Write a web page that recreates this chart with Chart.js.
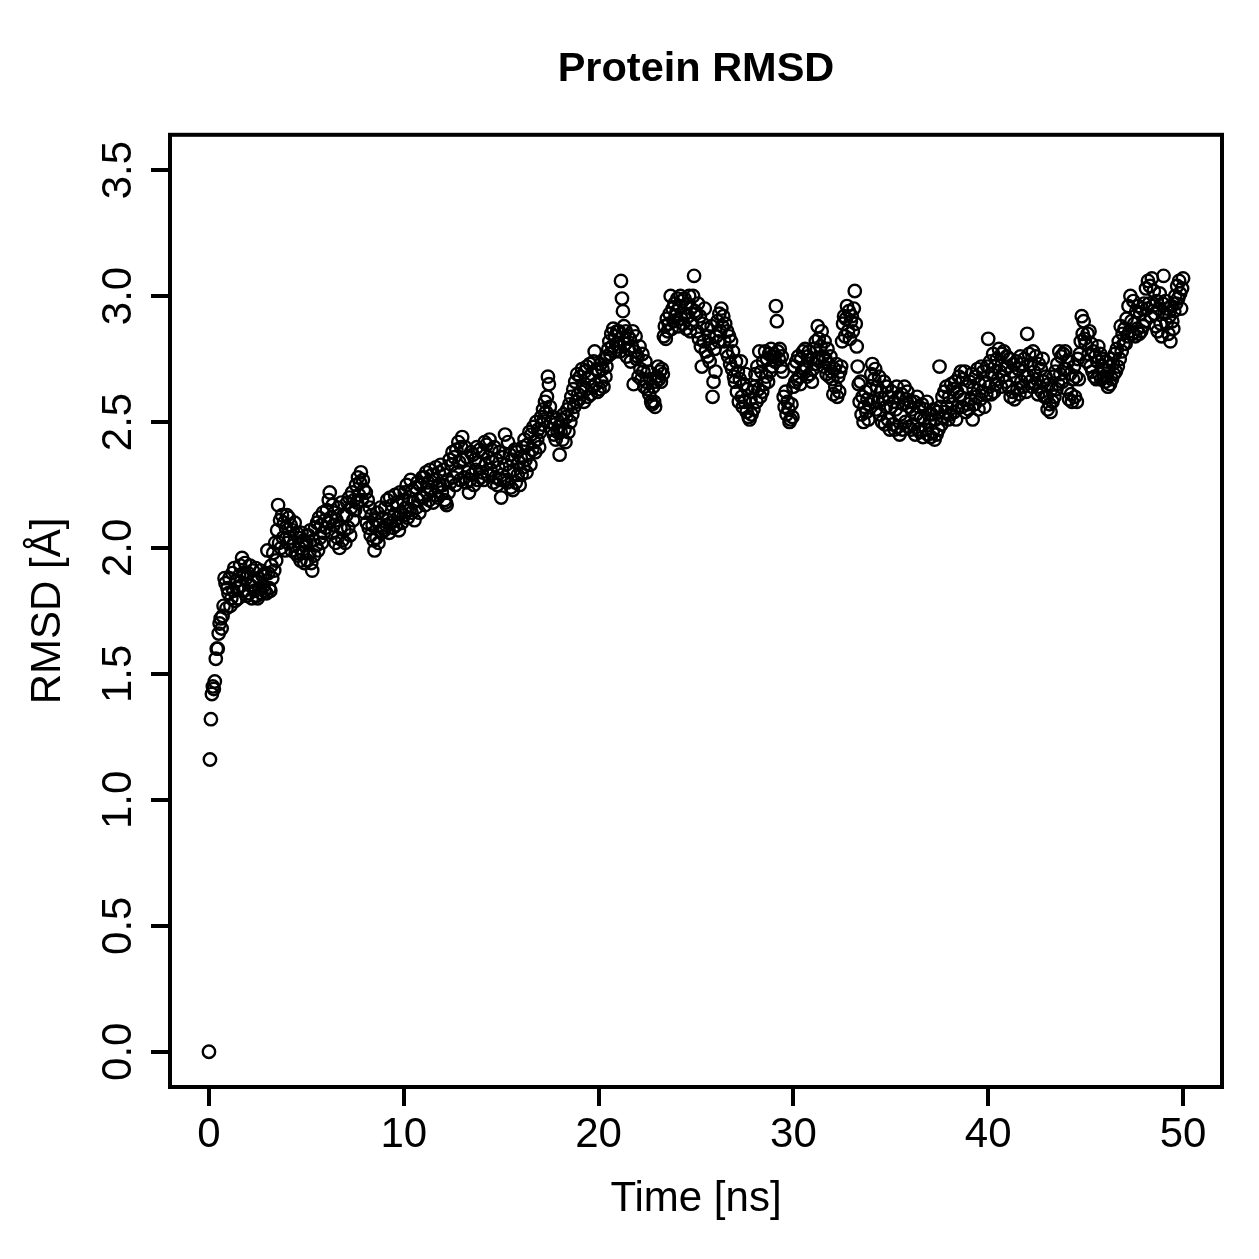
<!DOCTYPE html>
<html>
<head>
<meta charset="utf-8">
<title>Protein RMSD</title>
<script src="https://cdn.jsdelivr.net/npm/chart.js@4.4.1/dist/chart.umd.min.js"></script>
<style>
  html, body { margin: 0; padding: 0; background: #fff; }
  #wrap { width: 1259px; height: 1259px; }
</style>
</head>
<body>
<div id="wrap"><canvas id="rmsdChart" width="1259" height="1259"></canvas></div>
<script>
// frames were saved every 0.05 ns
const frameStep = 0.05;

// RMSD [Å] per frame, one row per ns
const rmsd = [
  0.00,1.16,1.32,1.42,1.45,1.44,1.47,1.56,1.60,1.60,1.66,1.70,1.72,1.68,1.73,1.77,1.88,1.86,1.76,1.84,
  1.82,1.88,1.77,1.80,1.90,1.83,1.92,1.79,1.87,1.84,1.80,1.89,1.93,1.85,1.96,1.90,1.83,1.94,1.88,1.81,
  1.90,1.82,1.93,1.85,1.80,1.91,1.87,1.83,1.92,1.81,1.80,1.88,1.84,1.91,1.82,1.89,1.85,1.83,1.90,1.82,
  1.99,1.90,1.84,1.83,1.93,1.88,1.98,1.91,2.02,1.95,2.07,2.17,2.02,2.11,2.00,2.13,2.04,2.10,1.99,2.08,
  2.13,2.02,2.12,2.04,2.09,1.99,2.07,2.01,2.10,1.98,2.06,1.97,2.04,2.00,1.95,2.06,1.98,2.03,1.94,2.01,
  2.02,1.95,2.05,1.98,2.07,1.94,1.91,2.03,1.97,2.08,2.01,2.10,1.99,2.12,2.04,2.09,2.02,2.14,2.06,2.11,
  2.08,2.15,2.10,2.19,2.22,2.12,2.06,2.17,2.09,2.14,2.02,2.11,2.04,2.16,2.00,2.08,2.18,2.03,2.13,2.07,
  2.02,2.13,2.18,2.08,2.20,2.05,2.16,2.22,2.11,2.19,2.15,2.25,2.18,2.28,2.21,2.26,2.30,2.19,2.27,2.23,
  2.14,2.22,2.10,2.19,2.08,2.16,2.05,2.13,2.09,2.03,1.99,2.11,2.04,2.14,2.02,2.09,2.16,2.06,2.12,2.08,
  2.07,2.16,2.09,2.19,2.11,2.06,2.20,2.10,2.17,2.08,2.13,2.21,2.09,2.18,2.12,2.07,2.22,2.14,2.10,2.19,
  2.13,2.22,2.16,2.25,2.12,2.20,2.15,2.27,2.14,2.23,2.18,2.11,2.24,2.16,2.26,2.19,2.14,2.25,2.20,2.28,
  2.20,2.28,2.17,2.30,2.22,2.26,2.19,2.31,2.23,2.29,2.18,2.27,2.21,2.32,2.24,2.20,2.30,2.25,2.33,2.22,
  2.25,2.31,2.19,2.18,2.17,2.27,2.22,2.35,2.26,2.33,2.38,2.28,2.36,2.25,2.39,2.30,2.42,2.34,2.27,2.40,
  2.44,2.35,2.28,2.40,2.26,2.36,2.30,2.22,2.27,2.38,2.29,2.37,2.25,2.35,2.31,2.40,2.27,2.34,2.39,2.28,
  2.30,2.38,2.27,2.42,2.33,2.41,2.29,2.36,2.43,2.31,2.39,2.34,2.26,2.40,2.28,2.35,2.25,2.32,2.38,2.27,
  2.20,2.29,2.36,2.27,2.45,2.33,2.26,2.42,2.30,2.37,2.24,2.35,2.23,2.31,2.39,2.26,2.38,2.29,2.34,2.25,
  2.36,2.29,2.40,2.32,2.43,2.35,2.30,2.41,2.37,2.46,2.33,2.45,2.39,2.48,2.42,2.38,2.50,2.43,2.47,2.40,
  2.46,2.52,2.49,2.55,2.51,2.58,2.54,2.60,2.68,2.65,2.56,2.50,2.47,2.52,2.45,2.49,2.43,2.51,2.46,2.48,
  2.37,2.46,2.51,2.43,2.53,2.47,2.42,2.52,2.55,2.46,2.57,2.50,2.60,2.53,2.63,2.56,2.66,2.58,2.69,2.61,
  2.59,2.68,2.62,2.71,2.64,2.58,2.70,2.63,2.72,2.60,2.67,2.73,2.61,2.69,2.64,2.74,2.78,2.65,2.71,2.62,
  2.70,2.63,2.73,2.66,2.71,2.64,2.75,2.68,2.72,2.76,2.79,2.82,2.77,2.85,2.80,2.87,2.78,2.84,2.81,2.86,
  2.80,2.86,2.78,3.06,2.99,2.94,2.88,2.81,2.86,2.76,2.84,2.79,2.83,2.74,2.80,2.86,2.65,2.78,2.84,2.75,
  2.76,2.68,2.80,2.71,2.67,2.77,2.70,2.64,2.74,2.66,2.63,2.70,2.61,2.67,2.58,2.57,2.64,2.58,2.56,2.66,
  2.68,2.72,2.67,2.70,2.66,2.71,2.69,2.84,2.88,2.83,2.91,2.86,2.89,2.93,3.00,2.87,2.95,2.90,2.97,2.92,
  2.94,2.99,2.88,2.96,3.00,2.91,2.98,2.89,2.99,2.93,2.87,2.97,2.92,3.00,2.86,2.95,2.89,3.00,3.08,2.94,
  2.93,2.86,2.97,2.83,2.92,2.80,2.72,2.89,2.82,2.95,2.78,2.87,2.76,2.84,2.74,2.81,2.88,2.60,2.66,2.79,
  2.70,2.84,2.90,2.82,2.93,2.86,2.95,2.88,2.92,2.82,2.89,2.78,2.86,2.76,2.84,2.73,2.82,2.71,2.78,2.68,
  2.66,2.74,2.62,2.70,2.58,2.67,2.74,2.60,2.56,2.65,2.58,2.69,2.54,2.63,2.52,2.51,2.59,2.53,2.62,2.55,
  2.64,2.69,2.58,2.72,2.63,2.78,2.60,2.70,2.62,2.74,2.65,2.78,2.68,2.75,2.66,2.77,2.70,2.79,2.72,2.76,
  2.77,2.74,2.96,2.90,2.78,2.75,2.79,2.72,2.76,2.70,2.60,2.56,2.62,2.53,2.58,2.55,2.50,2.51,2.57,2.52,
  2.64,2.72,2.66,2.74,2.67,2.76,2.68,2.65,2.75,2.70,2.78,2.71,2.79,2.72,2.68,2.76,2.78,2.69,2.75,2.66,
  2.71,2.79,2.73,2.82,2.75,2.88,2.83,2.74,2.80,2.86,2.76,2.72,2.82,2.75,2.69,2.79,2.73,2.68,2.76,2.70,
  2.67,2.61,2.71,2.64,2.73,2.60,2.68,2.62,2.70,2.72,2.82,2.89,2.92,2.84,2.91,2.96,2.86,2.94,2.83,2.90,
  2.92,2.86,2.95,3.02,2.89,2.80,2.72,2.65,2.58,2.66,2.53,2.60,2.50,2.56,2.62,2.54,2.59,2.51,2.57,2.63,
  2.69,2.73,2.58,2.67,2.71,2.55,2.64,2.58,2.68,2.53,2.62,2.50,2.59,2.66,2.49,2.56,2.64,2.51,2.60,2.47,
  2.56,2.62,2.49,2.58,2.47,2.55,2.64,2.48,2.60,2.45,2.53,2.61,2.47,2.57,2.64,2.50,2.59,2.62,2.48,2.56,
  2.58,2.47,2.55,2.49,2.58,2.45,2.53,2.60,2.47,2.56,2.46,2.52,2.57,2.44,2.51,2.55,2.47,2.58,2.45,2.53,
  2.50,2.44,2.53,2.46,2.55,2.43,2.51,2.45,2.54,2.47,2.72,2.56,2.49,2.60,2.52,2.62,2.54,2.64,2.56,2.51,
  2.60,2.53,2.65,2.57,2.63,2.54,2.66,2.51,2.62,2.56,2.68,2.60,2.70,2.56,2.67,2.59,2.70,2.54,2.64,2.57,
  2.55,2.66,2.59,2.69,2.51,2.63,2.57,2.68,2.60,2.71,2.55,2.65,2.59,2.72,2.62,2.70,2.56,2.66,2.61,2.72,
  2.83,2.64,2.74,2.61,2.69,2.77,2.62,2.72,2.65,2.75,2.67,2.79,2.70,2.64,2.77,2.68,2.78,2.71,2.66,2.76,
  2.72,2.64,2.75,2.60,2.70,2.62,2.73,2.59,2.68,2.74,2.63,2.71,2.61,2.76,2.66,2.73,2.64,2.75,2.68,2.62,
  2.85,2.68,2.77,2.66,2.73,2.64,2.78,2.70,2.65,2.76,2.67,2.61,2.73,2.64,2.71,2.62,2.75,2.66,2.60,2.68,
  2.60,2.55,2.65,2.57,2.54,2.63,2.58,2.68,2.60,2.70,2.63,2.73,2.65,2.78,2.69,2.76,2.66,2.77,2.71,2.78,
  2.71,2.63,2.74,2.59,2.69,2.61,2.58,2.67,2.72,2.60,2.68,2.58,2.75,2.67,2.77,2.82,2.92,2.85,2.90,2.83,
  2.81,2.74,2.85,2.77,2.86,2.72,2.81,2.70,2.78,2.68,2.76,2.67,2.74,2.80,2.69,2.77,2.67,2.75,2.71,2.68,
  2.66,2.74,2.68,2.64,2.72,2.65,2.75,2.67,2.73,2.69,2.77,2.70,2.79,2.72,2.82,2.75,2.88,2.78,2.85,2.81,
  2.87,2.81,2.91,2.84,2.96,2.86,3.00,2.90,2.85,2.98,2.89,2.84,2.94,2.87,2.96,2.85,2.93,2.86,2.95,2.88,
  2.97,2.90,3.03,2.95,3.06,2.97,3.04,2.92,3.07,2.96,3.02,2.93,2.88,2.98,2.86,2.95,3.01,2.89,2.84,2.97,
  3.08,2.93,2.98,2.89,2.95,2.85,2.92,2.82,2.96,2.90,2.87,2.94,3.00,2.97,3.04,2.99,3.06,3.01,2.95,3.03,
  3.07
];

const xTicks = [0, 10, 20, 30, 40, 50];
const yTicks = [0, 0.5, 1, 1.5, 2, 2.5, 3, 3.5];

const fontFamily = "'Liberation Sans', Arial, Helvetica, sans-serif";
const axisFont = { family: fontFamily, size: 42 };

const points = rmsd.map((v, i) => ({ x: +(i * frameStep).toFixed(2), y: v }));

// R style box round the plot region
const boxPlugin = {
  id: 'plotBox',
  afterDraw(chart) {
    const { ctx, chartArea: a } = chart;
    ctx.save();
    ctx.strokeStyle = '#000';
    ctx.lineWidth = 4;
    ctx.strokeRect(a.left, a.top, a.right - a.left, a.bottom - a.top);
    ctx.restore();
  }
};

new Chart(document.getElementById('rmsdChart'), {
  type: 'scatter',
  data: {
    datasets: [{
      data: points,
      pointStyle: 'circle',
      pointRadius: 6.2,
      pointBorderWidth: 2.4,
      pointBorderColor: '#000',
      pointBackgroundColor: 'rgba(0,0,0,0)',
      showLine: false
    }]
  },
  options: {
    responsive: false,
    animation: false,
    devicePixelRatio: 1,
    elements: { point: { radius: 6.2, borderWidth: 2.4, hoverRadius: 6.2 } },
    layout: { padding: { top: 0, right: 37, bottom: 0, left: 0 } },
    plugins: {
      legend: { display: false },
      tooltip: { enabled: false },
      title: {
        display: true,
        text: 'Protein RMSD',
        color: '#000',
        fullSize: false,
        font: { family: fontFamily, size: 41.5, weight: 'bold' },
        padding: { top: 45, bottom: 40 }
      }
    },
    scales: {
      x: {
        type: 'linear',
        min: -2,
        max: 52,
        afterBuildTicks: s => { s.ticks = xTicks.map(v => ({ value: v })); },
        afterFit: s => { s.height = 172; },
        border: { display: false },
        grid: { drawOnChartArea: false, drawTicks: true, tickLength: 19, color: '#000', lineWidth: 4 },
        ticks: { color: '#000', font: axisFont, padding: 4, maxRotation: 0, autoSkip: false,
                 callback: v => String(v) },
        title: { display: true, text: 'Time [ns]', color: '#000', font: axisFont,
                 padding: { top: 34, bottom: 34 } }
      },
      y: {
        type: 'linear',
        min: -0.14,
        max: 3.64,
        afterBuildTicks: s => { s.ticks = yTicks.map(v => ({ value: v })); },
        afterFit: s => { s.width = 170; },
        border: { display: false },
        grid: { drawOnChartArea: false, drawTicks: true, tickLength: 19, color: '#000', lineWidth: 4 },
        ticks: { color: '#000', font: axisFont, padding: 2, minRotation: 90, maxRotation: 90,
                 crossAlign: 'center', autoSkip: false, callback: v => v.toFixed(1) },
        title: { display: true, text: 'RMSD [Å]', color: '#000', font: axisFont,
                 padding: { top: 23, bottom: 23 } }
      }
    }
  },
  plugins: [boxPlugin]
});
</script>
</body>
</html>
